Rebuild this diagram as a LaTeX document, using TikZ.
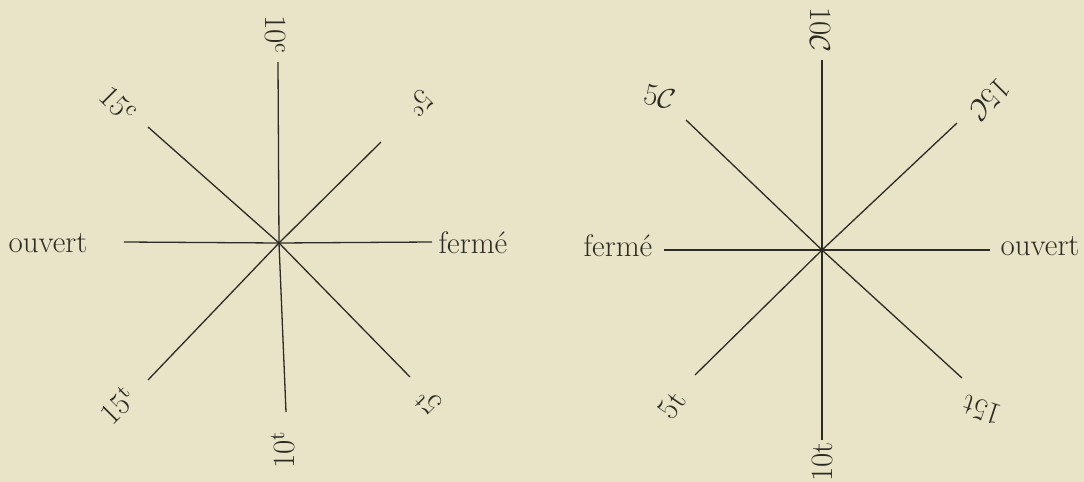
\documentclass[tikz,border=0pt]{standalone}
\usepackage{fontspec}
\definecolor{paper}{RGB}{233,227,200}
\definecolor{ink}{RGB}{45,44,36}
\begin{document}
\begin{tikzpicture}[x=0.5pt,y=-0.5pt,
  lab/.style={text=ink, inner sep=0pt, font=\fontsize{15.5}{18}\selectfont},
  spoke/.style={draw=ink, line width=0.65pt}]
\fill[paper] (0,0) rectangle (1084,482);
\useasboundingbox (0,0) rectangle (1084,482);
% left star
\coordinate (L) at (279,243);
\coordinate (Lt) at (278,62);
\coordinate (Lb) at (286,412);
\coordinate (Ll) at (124,242);
\coordinate (Lr) at (432,242);
\coordinate (Ltl) at (148,127);
\coordinate (Ltr) at (381,142);
\coordinate (Lbl) at (148,380);
\coordinate (Lbr) at (410,377);
\foreach \e in {Lt,Lb,Ll,Lr,Ltl,Ltr,Lbl,Lbr} \draw[spoke] (\e) -- (L);
\node[lab, rotate=-90] (l10c) at (275,35) {10\textsuperscript{c}};
\node[lab, rotate=-45] (l15c) at (118,105) {15\textsuperscript{c}};
\node[lab, rotate=-135] (l5c) at (420,103) {5\textsuperscript{c}};
\node[lab] (lou) at (48,243) {ouvert};
\node[lab] (lfe) at (473,243) {fermé};
\node[lab, rotate=45] (l15t) at (118,405) {15\textsuperscript{t}};
\node[lab, rotate=90] (l10t) at (283,450) {10\textsuperscript{t}};
\node[lab, rotate=135] (l5t) at (428,402) {5\textsuperscript{t}};
% right star
\coordinate (R) at (822,250);
\coordinate (Rt) at (822,60);
\coordinate (Rb) at (822,440);
\coordinate (Rl) at (664,250);
\coordinate (Rr) at (990,250);
\coordinate (Rtl) at (686,120);
\coordinate (Rtr) at (957,123);
\coordinate (Rbl) at (695,375);
\coordinate (Rbr) at (962,378);
\foreach \e in {Rt,Rb,Rl,Rr,Rtl,Rtr,Rbl,Rbr} \draw[spoke] (\e) -- (R);
\node[lab, rotate=-90] (r10c) at (820,30) {10$\mathcal{C}$};
\node[lab, rotate=-12] (r5c) at (660,97) {5$\mathcal{C}$};
\node[lab, rotate=-135] (r15c) at (990,100) {15$\mathcal{C}$};
\node[lab] (rfe) at (618,246) {fermé};
\node[lab] (rou) at (1040,246) {ouvert};
\node[lab, rotate=55] (r5t) at (672,405) {5t};
\node[lab, rotate=90] (r10t) at (822,462) {10t};
\node[lab, rotate=162] (r15t) at (982,410) {15t};
\end{tikzpicture}
\end{document}
